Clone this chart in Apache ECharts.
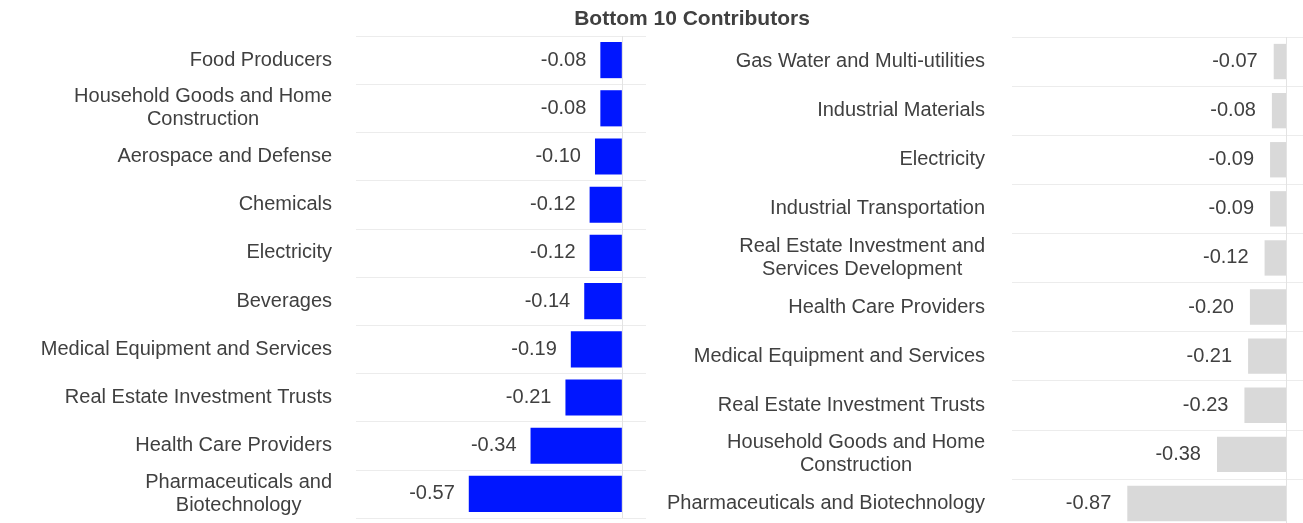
<!DOCTYPE html>
<html lang="en">
<head>
<meta charset="UTF-8">
<title>Bottom 10 Contributors</title>
<style>
  html, body { margin: 0; padding: 0; background: #fff; }
  #chart { width: 1303px; height: 523px; }
</style>
<script src="https://cdn.jsdelivr.net/npm/echarts@6/dist/echarts.min.js"></script>
</head>
<body>
<div id="chart"></div>
<script>
// left panel
var leftCats = ['Food Producers', 'Household Goods and Home\nConstruction', 'Aerospace and Defense',
  'Chemicals', 'Electricity', 'Beverages', 'Medical Equipment and Services',
  'Real Estate Investment Trusts', 'Health Care Providers', 'Pharmaceuticals and\nBiotechnology'];
var leftVals = [-0.08, -0.08, -0.10, -0.12, -0.12, -0.14, -0.19, -0.21, -0.34, -0.57];

// right panel
var rightCats = ['Gas Water and Multi-utilities', 'Industrial Materials', 'Electricity',
  'Industrial Transportation', 'Real Estate Investment and\nServices Development',
  'Health Care Providers', 'Medical Equipment and Services', 'Real Estate Investment Trusts',
  'Household Goods and Home\nConstruction', 'Pharmaceuticals and Biotechnology'];
var rightVals = [-0.07, -0.08, -0.09, -0.09, -0.12, -0.20, -0.21, -0.23, -0.38, -0.87];

var txt = '#404040';
var font = 'Liberation Sans, Arial, sans-serif';
var fs = 20;

function catAxis(idx, margin) {
  return {
    type: 'category', gridIndex: idx, inverse: true,
    data: idx === 0 ? leftCats : rightCats,
    axisLine: { show: false }, axisTick: { show: false },
    splitLine: { show: true, lineStyle: { color: '#ececec', width: 1 } },
    axisLabel: {
      margin: margin, align: 'right', color: txt, fontFamily: font, fontSize: fs,
      formatter: function (v) {
        return v.split('\n').map(function (s) { return '{c|' + s + '}'; }).join('\n');
      },
      rich: { c: { align: 'center', fontSize: fs, fontFamily: font, color: txt, lineHeight: 23 } }
    }
  };
}

function valAxis(idx, min, max) {
  return {
    type: 'value', gridIndex: idx, min: min, max: max,
    axisLine: { show: false }, axisTick: { show: false },
    axisLabel: { show: false }, splitLine: { show: false }
  };
}

function barSeries(idx, vals, color, gap, dist) {
  return {
    type: 'bar', xAxisIndex: idx, yAxisIndex: idx, data: vals,
    barCategoryGap: gap,
    itemStyle: { color: color },
    label: {
      show: true, position: 'left', distance: dist, color: txt,
      fontFamily: font, fontSize: fs,
      formatter: function (p) { return p.value.toFixed(2); }
    },
    markLine: {
      silent: true, symbol: 'none', label: { show: false },
      lineStyle: { color: '#e3e3e3', type: 'solid', width: 1 },
      data: [{ xAxis: 0 }]
    }
  };
}

var chart = echarts.init(document.getElementById('chart'));
chart.setOption({
  animation: false,
  title: {
    text: 'Bottom 10 Contributors', left: 687, top: 4, textAlign: 'center',
    textStyle: { color: txt, fontFamily: font, fontSize: 21, fontWeight: 'bold' }
  },
  grid: [
    { left: 356, top: 36, width: 290, height: 482, outerBoundsMode: 'none' },
    { left: 1012, top: 37, width: 291, height: 491, outerBoundsMode: 'none' }
  ],
  xAxis: [valAxis(0, -0.99, 0.09), valAxis(1, -1.5, 0.09)],
  yAxis: [catAxis(0, 24), catAxis(1, 27)],
  series: [
    barSeries(0, leftVals, '#0016ff', '25%', 14),
    barSeries(1, rightVals, '#d9d9d9', '28%', 16)
  ]
});
</script>
</body>
</html>
